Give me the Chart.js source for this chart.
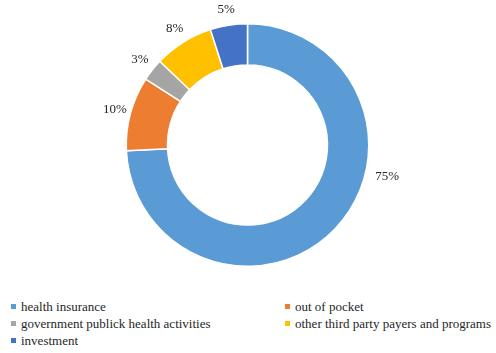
<!DOCTYPE html>
<html>
<head>
<meta charset="utf-8">
<script src="https://cdn.jsdelivr.net/npm/chart.js@4"></script>
<style>
  body { margin: 0; background: #fff; width: 496px; height: 353px; overflow: hidden; position: relative; }
  #grafica { position: absolute; left: 0; top: 0; }
  #leyenda { position: absolute; left: 0; top: 298px; width: 496px;
             font-family: "Liberation Serif", "DejaVu Serif", "Times New Roman", serif; font-size: 13px; color: #262626; }
  .item { position: absolute; white-space: nowrap; line-height: 17px; }
  .item i { display: inline-block; width: 5px; height: 5px; margin-right: 5px; vertical-align: 2px; }
</style>
</head>
<body>
<canvas id="grafica" width="496" height="290"></canvas>
<div id="leyenda"></div>
<script>
// --- DATOS ---
const categorias = ['health insurance', 'out of pocket', 'government publick health activities',
                    'other third party payers and programs', 'investment'];
const porcentajes = [75, 10, 3, 8, 5];
const colores = ['#5B9BD5', '#ED7D31', '#A5A5A5', '#FFC000', '#4472C4'];

const FUENTE = '"Liberation Serif", "DejaVu Serif", "Times New Roman", serif';

// etiquetas de porcentaje fuera del anillo
const etiquetasFuera = {
    id: 'etiquetasFuera',
    afterDatasetsDraw(chart, args, opts) {
        const ctx = chart.ctx;
        const meta = chart.getDatasetMeta(0);
        ctx.save();
        ctx.font = '13px ' + FUENTE;
        ctx.fillStyle = '#262626';
        ctx.textAlign = 'center';
        ctx.textBaseline = 'middle';
        meta.data.forEach((arc, i) => {
            const p = arc.getProps(['x', 'y', 'startAngle', 'endAngle', 'outerRadius'], true);
            let ang = (p.startAngle + p.endAngle) / 2;
            let r = p.outerRadius + 16;
            // la etiqueta grande va mas arriba, a la derecha
            if (opts.giro && opts.giro[i] != null) {
                ang = opts.giro[i] * Math.PI / 180;
                r = p.outerRadius + 22;
            }
            ctx.fillText(porcentajes[i] + '%', p.x + Math.cos(ang) * r, p.y + Math.sin(ang) * r);
        });
        ctx.restore();
    }
};

const ctx = document.getElementById('grafica').getContext('2d');
new Chart(ctx, {
    type: 'doughnut',
    data: {
        labels: categorias,
        datasets: [{
            data: porcentajes,
            backgroundColor: colores,
            borderColor: '#ffffff',
            borderWidth: 1.5
        }]
    },
    options: {
        responsive: false,
        animation: false,
        cutout: '66%',
        layout: { padding: { top: 23, bottom: 23, left: 0, right: 1 } },
        plugins: {
            legend: { display: false },
            tooltip: { enabled: false },
            etiquetasFuera: { giro: [12.8, null, null, null, null] }
        }
    },
    plugins: [etiquetasFuera]
});

// --- LEYENDA EN DOS COLUMNAS ---
const leyenda = document.getElementById('leyenda');
categorias.forEach((nombre, i) => {
    const div = document.createElement('div');
    div.className = 'item';
    div.style.left = (i % 2 === 0 ? 11 : 285) + 'px';
    div.style.top = (Math.floor(i / 2) * 17) + 'px';
    div.innerHTML = `<i style="background:${colores[i]}"></i>${nombre}`;
    leyenda.appendChild(div);
});
</script>
</body>
</html>
